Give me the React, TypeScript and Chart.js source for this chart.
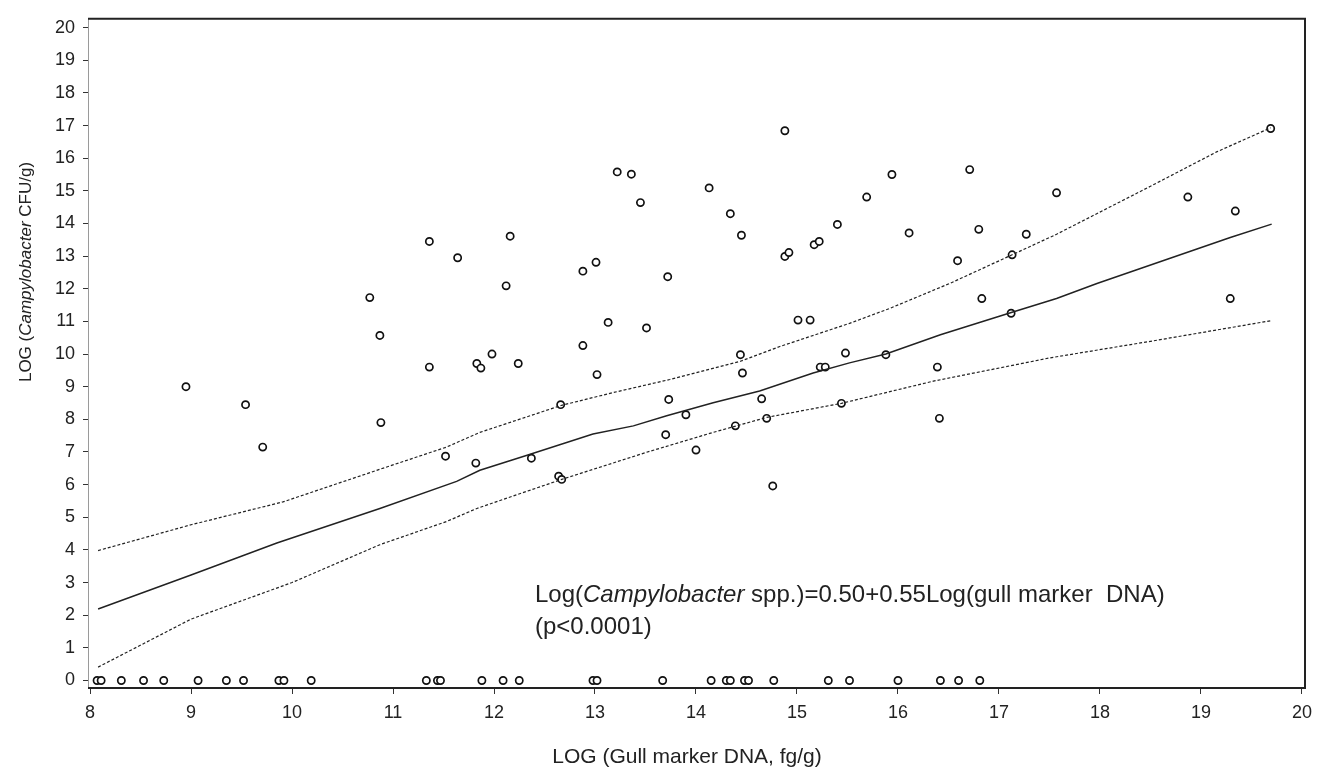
import React, { useEffect, useRef } from "react";
import { Chart, registerables } from "chart.js";

Chart.register(...registerables);

// Observed samples: LOG gull marker DNA (x) vs LOG Campylobacter CFU/g (y)
const obsX = [
  8.95, 9.54, 9.71, 10.77, 10.87, 10.88, 11.36, 11.64, 12.16, 12.12, 11.36, 11.83, 11.87, 11.98, 12.24,
  13.22, 13.36, 13.45, 12.88, 13.01, 13.72, 13.13, 13.51, 12.88, 13.02, 14.13, 14.34, 14.45, 14.88, 14.88,
  14.92, 15.17, 15.22, 15.4, 15.69, 15.01, 15.13, 14.44, 14.46, 15.48, 15.23, 15.28, 14.65, 13.73, 12.66,
  15.94, 16.71, 17.57, 18.87, 19.34, 19.69, 16.11, 16.8, 17.27, 16.59, 17.13, 16.83, 19.29, 17.12, 15.88,
  16.39, 16.41, 11.52, 11.82, 12.37, 12.64, 12.67, 13.9, 13.7, 14.0, 14.7, 14.39, 15.44, 14.76,
];
const obsY = [
  9.0, 8.45, 7.15, 11.73, 10.57, 7.9, 13.45, 12.95, 13.61, 12.09, 9.6, 9.71, 9.57, 10.0, 9.71,
  15.58, 15.51, 14.64, 12.54, 12.81, 12.37, 10.97, 10.8, 10.26, 9.37, 15.09, 14.3, 13.64, 16.84, 12.99,
  13.11, 13.35, 13.45, 13.97, 14.81, 11.04, 11.04, 9.98, 9.42, 10.03, 9.6, 9.6, 8.63, 8.61, 8.45,
  15.5, 15.65, 14.94, 14.81, 14.38, 16.91, 13.71, 13.82, 13.67, 12.86, 13.04, 11.7, 11.7, 11.25, 9.98,
  9.6, 8.03, 6.87, 6.66, 6.81, 6.26, 6.16, 8.14, 7.53, 7.06, 8.03, 7.8, 8.49, 5.96,
];
// Samples with no Campylobacter detected (y = 0)
const zeroX = [
  8.07, 8.11, 8.31, 8.53, 8.73, 9.07, 9.35, 9.52, 9.87, 9.92, 10.19, 11.33, 11.44, 11.47, 11.88, 12.09,
  12.25, 12.98, 13.02, 13.67, 14.15, 14.3, 14.34, 14.48, 14.52, 14.77, 15.31, 15.52, 16.0, 16.42, 16.6, 16.81,
];

// Fitted curve and confidence band
const fitX = [8.08, 9.0, 9.85, 10.87, 11.63, 11.86, 12.32, 12.98, 13.38, 13.71, 14.17, 14.63, 15.16, 15.52, 15.88, 16.42, 17.13, 17.57, 17.97, 19.29, 19.7];
const fitY = [2.19, 3.23, 4.21, 5.27, 6.1, 6.44, 6.89, 7.55, 7.8, 8.11, 8.51, 8.87, 9.42, 9.73, 10.0, 10.59, 11.28, 11.7, 12.16, 13.57, 13.98];
const upperX = [8.08, 9.0, 9.91, 10.87, 11.53, 11.86, 12.67, 13.18, 13.74, 14.44, 14.83, 15.52, 15.92, 16.51, 17.13, 17.57, 18.5, 19.16, 19.69];
const upperY = [3.98, 4.77, 5.47, 6.47, 7.15, 7.6, 8.43, 8.82, 9.22, 9.78, 10.23, 10.94, 11.4, 12.16, 13.04, 13.67, 15.14, 16.2, 16.93];
const lowerX = [8.08, 9.0, 10.0, 10.87, 11.53, 11.83, 12.67, 13.51, 14.17, 14.7, 15.44, 16.35, 17.5, 18.5, 19.69];
const lowerY = [0.41, 1.88, 3.0, 4.16, 4.87, 5.27, 6.16, 6.99, 7.6, 8.06, 8.49, 9.17, 9.88, 10.39, 11.02];

const xTicks = [8, 9, 10, 11, 12, 13, 14, 15, 16, 17, 18, 19, 20];
const yTicks = [0, 1, 2, 3, 4, 5, 6, 7, 8, 9, 10, 11, 12, 13, 14, 15, 16, 17, 18, 19, 20];

const FONT = "'Liberation Sans', Arial, sans-serif";
const INK = "#222";

type Seg = { t: string; i?: boolean };
function drawSegs(ctx: CanvasRenderingContext2D, segs: Seg[], size: number, x: number, y: number, center = false) {
  const fontOf = (s: Seg) => `${s.i ? "italic " : ""}${size}px ${FONT}`;
  let total = 0;
  for (const s of segs) {
    ctx.font = fontOf(s);
    total += ctx.measureText(s.t).width;
  }
  let cx = center ? x - total / 2 : x;
  ctx.textAlign = "left";
  for (const s of segs) {
    ctx.font = fontOf(s);
    ctx.fillText(s.t, cx, y);
    cx += ctx.measureText(s.t).width;
  }
}

const framePlugin = {
  id: "frameAndText",
  afterDraw(chart: any) {
    const { ctx, chartArea: a } = chart;
    ctx.save();
    // frame
    ctx.strokeStyle = "#9a9a9a";
    ctx.lineWidth = 1;
    ctx.beginPath();
    ctx.moveTo(a.left + 0.5, a.top);
    ctx.lineTo(a.left + 0.5, a.bottom);
    ctx.stroke();
    ctx.strokeStyle = INK;
    ctx.lineWidth = 2;
    ctx.beginPath();
    ctx.moveTo(a.left, a.top);
    ctx.lineTo(a.right, a.top);
    ctx.lineTo(a.right, a.bottom);
    ctx.lineTo(a.left, a.bottom);
    ctx.stroke();

    ctx.fillStyle = INK;
    ctx.textBaseline = "alphabetic";
    // annotation
    drawSegs(ctx, [
      { t: "Log(" },
      { t: "Campylobacter", i: true },
      { t: " spp.)=0.50+0.55Log(gull marker  DNA)" },
    ], 24, 535, 602);
    drawSegs(ctx, [{ t: "(p<0.0001)" }], 24, 535, 634);

    // x title
    drawSegs(ctx, [{ t: "LOG (Gull marker DNA, fg/g)" }], 21, 687, 763, true);

    // y title
    ctx.translate(31, 272);
    ctx.rotate(-Math.PI / 2);
    drawSegs(ctx, [
      { t: "LOG (" },
      { t: "Campylobacter", i: true },
      { t: " CFU/g)" },
    ], 17, 0, 0, true);
    ctx.restore();
  },
};

export default function App() {
  const ref = useRef<HTMLCanvasElement | null>(null);

  useEffect(() => {
    if (!ref.current) return;
    const points = [
      ...obsX.map((x, i) => ({ x, y: obsY[i] })),
      ...zeroX.map((x) => ({ x, y: 0 })),
    ];
    const lineDs = (xs: number[], ys: number[], dash: number[], width: number) => ({
      type: "line" as const,
      data: xs.map((x, i) => ({ x, y: ys[i] })),
      borderColor: INK,
      borderWidth: width,
      borderDash: dash,
      pointRadius: 0,
      tension: 0,
      fill: false,
    });
    const chart = new Chart(ref.current, {
      type: "scatter",
      data: {
        datasets: [
          lineDs(upperX, upperY, [3, 2], 1.2),
          lineDs(lowerX, lowerY, [3, 2], 1.2),
          lineDs(fitX, fitY, [], 1.5),
          {
            type: "scatter",
            data: points,
            pointStyle: "circle",
            pointRadius: 3.6,
            borderWidth: 1.7,
            borderColor: "#111",
            backgroundColor: "#fff",
          } as any,
        ],
      },
      options: {
        animation: false,
        responsive: false,
        devicePixelRatio: 1,
        layout: { padding: { left: 0, top: 13, right: 20, bottom: 0 } },
        plugins: { legend: { display: false }, tooltip: { enabled: false } },
        scales: {
          x: {
            type: "linear",
            min: 7.98,
            max: 20.03,
            afterBuildTicks: (axis: any) => {
              axis.ticks = xTicks.map((v) => ({ value: v }));
            },
            afterFit: (axis: any) => {
              axis.height = 771 - 688;
            },
            border: { display: false },
            grid: { drawOnChartArea: false, drawTicks: true, tickLength: 6, color: "#333", lineWidth: 1 },
            ticks: { color: INK, font: { family: FONT, size: 18 }, padding: 8, maxRotation: 0, autoSkip: false },
          },
          y: {
            type: "linear",
            min: -0.23,
            max: 20.27,
            afterBuildTicks: (axis: any) => {
              axis.ticks = yTicks.map((v) => ({ value: v }));
            },
            afterFit: (axis: any) => {
              axis.width = 88;
            },
            border: { display: false },
            grid: { drawOnChartArea: false, drawTicks: true, tickLength: 5, color: "#333", lineWidth: 1 },
            ticks: { color: INK, font: { family: FONT, size: 18 }, padding: 8, autoSkip: false },
          },
        },
      },
      plugins: [framePlugin],
    });
    return () => chart.destroy();
  }, []);

  return (
    <div style={{ position: "fixed", left: 0, top: 0, width: 1325, height: 771, background: "#fff" }}>
      <canvas ref={ref} width={1325} height={771} style={{ display: "block" }} />
    </div>
  );
}
